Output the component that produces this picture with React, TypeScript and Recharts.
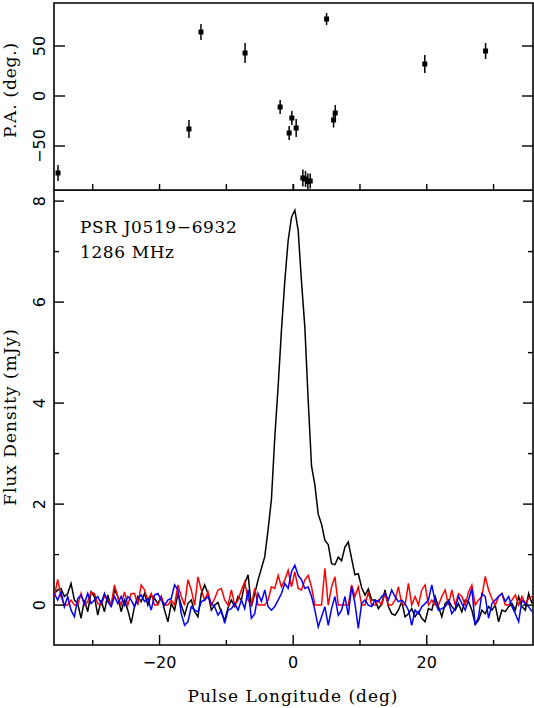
import React from 'react';
import {
  ScatterChart,
  Scatter,
  LineChart,
  Line,
  XAxis,
  YAxis,
  ErrorBar,
  ReferenceArea,
} from 'recharts';

// ---------- Position angle panel ----------
const paLongitude = [-35.2, -15.6, -13.8, -7.2, -1.95, -0.6, -0.2, 0.45, 0.05, 1.45, 1.85, 2.2, 2.55, 5.0, 6.05, 6.3, 19.7, 28.8];
const paAngle = [-77, -33, 64, 43, -11, -37, -22, -32, -97, -82, -83, -85.5, -85, 77, -24, -17, 32, 45];
const paError = [8, 9, 8, 10, 7, 7, 7, 9, 9, 8.5, 8, 8, 7.5, 6, 7.5, 8, 9, 8];

// ---------- Profile panel (0.5 deg bins) ----------
const firstBin = -35.75;
const binWidth = 0.5;

const totalLeft = [0.23, 0.30, 0.33, 0.17, 0.23, 0.43, 0.10, 0.03, -0.26, 0.10, -0.13, 0.26, 0.17, -0.20, 0.10, -0.13, 0.20, -0.03, 0.30, 0.17, -0.13, 0.10, -0.10, -0.36, -0.03, 0.17, 0.07, 0.23, 0.00, 0.20, 0.13, 0.03, 0.17, -0.10, -0.33, 0.03, -0.10, 0.23, 0.00, -0.20, 0.03, 0.10, -0.13, -0.23, 0.23, 0.40, 0.23, -0.10];
const totalCentre = [0.0, 0.05, -0.15, -0.3, -0.05, 0.1, -0.03, 0.17, 0.1, 0.43, 0.6, -0.03, 0.23, 0.5, 0.73, 0.96, 1.5, 2.1, 3.33, 4.33, 5.45, 6.42, 7.22, 7.68, 7.82, 7.42, 6.4, 5.5, 4.05, 2.75, 2.38, 1.8, 1.6, 1.28, 1.2, 0.82, 0.8, 0.95, 0.88, 1.15, 1.25, 0.92, 0.6, 0.62, 0.35, 0.2, 0.32, 0.1];
const totalRight = [0.1, -0.07, 0.03, 0.3, -0.03, -0.17, -0.2, -0.1, 0.07, -0.23, -0.17, -0.07, -0.23, -0.13, -0.26, -0.33, -0.07, -0.1, 0.17, -0.03, -0.23, 0.03, 0.1, -0.03, -0.1, 0.03, -0.13, 0.1, 0.07, -0.1, -0.38, -0.3, -0.1, -0.17, -0.03, -0.1, 0, -0.33, -0.1, -0.13, -0.03, 0.03, -0.1, 0.17, -0.03, -0.1, 0.23, 0.03];

const linearLeft = [0.17, 0.51, 0.17, 0, 0, 0.10, 0, 0, 0.23, 0, 0.07, 0.26, 0.23, 0.03, 0, 0.17, 0.10, 0, 0.40, 0.17, 0, 0.26, 0, 0.23, 0.23, 0, 0.40, 0.30, 0.10, 0.23, 0, 0, 0.17, 0, 0, 0.10, 0, 0.40, 0.17, 0, 0.50, 0.30, 0, 0.56, 0.30, 0.10, 0.26, 0];
const linearCentre = [0.13, 0.3, 0.33, 0.1, 0, 0.3, 0, 0.1, 0.3, 0.46, 0.1, 0, 0.33, 0, 0, 0, 0.1, 0.36, 0.33, 0.59, 0.36, 0.5, 0.69, 0.36, 0.66, 0.33, 0.3, 0.5, 0.59, 0.36, 0, 0, 0, 0.73, 0, 0.36, 0.56, 0, 0, 0, 0, 0.4, 0.17, 0.36, 0, 0, 0.26, 0];
const linearRight = [0, 0.1, 0, 0.23, 0, 0, 0.1, 0.36, 0.03, 0, 0.43, 0, 0.17, 0, 0.3, 0.4, 0, 0.1, 0, 0, 0.17, 0.3, 0, 0.3, 0, 0.23, 0.17, 0, 0.26, 0.4, 0, 0.1, 0.17, 0.57, 0.3, 0.13, 0, 0.17, 0.23, 0, 0, 0.1, 0.2, 0, 0.17, 0.03, 0.13, 0.17];

const circularLeft = [0.23, 0.10, 0.26, -0.03, 0.17, -0.10, -0.23, 0.13, 0.20, 0.03, 0.23, 0.03, 0.10, 0.17, 0.03, 0.23, 0.07, -0.03, 0.17, 0.03, 0.17, 0, 0.17, 0.10, -0.03, 0.13, 0.20, 0.07, 0.13, -0.10, 0.20, 0.23, 0.10, 0, 0.10, 0.13, 0.40, 0.30, -0.17, -0.40, -0.33, -0.03, -0.10, -0.13, 0.07, 0.10, 0.17, 0.03];
const circularCentre = [-0.03, -0.2, -0.1, -0.36, -0.1, -0.07, 0.03, -0.1, 0.1, -0.07, 0.3, -0.26, -0.17, 0.23, 0.07, 0.3, -0.03, -0.1, -0.03, 0.1, 0.23, 0.43, 0.33, 0.66, 0.79, 0.59, 0.5, 0.33, 0.36, 0.17, -0.1, -0.43, -0.23, -0.03, -0.4, -0.07, 0.17, -0.2, -0.1, 0.17, -0.2, 0.36, 0.03, -0.46, 0.03, 0.1, 0, -0.03];
const circularRight = [0.1, 0.07, 0.17, 0.23, 0.1, 0.3, 0.17, 0.07, 0.1, 0.03, -0.1, -0.4, -0.1, -0.17, -0.03, 0.03, 0.1, 0.4, 0.07, -0.1, -0.07, -0.03, 0.07, -0.17, -0.07, 0.17, 0.03, -0.1, 0.1, 0.33, -0.4, -0.23, 0.23, 0.17, -0.26, 0.03, 0.1, 0.17, 0.23, 0.07, 0.17, -0.03, -0.17, -0.33, 0.1, 0.03, -0.03, -0.13];

// ---------- Axes ----------
const xTicks = [-30, -20, -10, 0, 10, 20, 30];
const xLabelled = [-20, 0, 20];
const paTicks = [-50, 0, 50];
const fluxTicks = [0, 1, 2, 3, 4, 5, 6, 7, 8];
const fluxLabelled = [0, 2, 4, 6, 8];

const X_DOMAIN: [number, number] = [-35.8, 35.9];
const PA_DOMAIN: [number, number] = [-94, 93];
const FLUX_DOMAIN: [number, number] = [-0.79, 8.22];

// ---------- build tables ----------
const total = [...totalLeft, ...totalCentre, ...totalRight];
const linear = [...linearLeft, ...linearCentre, ...linearRight];
const circular = [...circularLeft, ...circularCentre, ...circularRight];
const profile = total.map((v, i) => ({
  lon: firstBin + i * binWidth,
  I: v,
  L: linear[i],
  V: circular[i],
}));
const paData = paLongitude.map((lon, i) => ({ lon, pa: paAngle[i], err: paError[i] }));

const SERIF = '"DejaVu Serif", "Liberation Serif", serif';
const NUM = '"DejaVu Sans", sans-serif';
const fmt = (v: number) => (v < 0 ? '\u2212' + Math.abs(v) : String(v));

const xTick = (side: 'top' | 'bottom', len: (v: number) => number, labels: number[]) => (props: any) => {
  const { x, y, payload } = props;
  const v = payload.value;
  const dir = side === 'bottom' ? -1 : 1;
  return (
    <g>
      <line x1={x} y1={y} x2={x} y2={y + dir * len(v)} stroke="#000" strokeWidth={1.4} />
      {labels.includes(v) && (
        <text x={x} y={y + 23} textAnchor="middle" fontFamily={NUM} fontSize={16} fill="#000">
          {fmt(v)}
        </text>
      )}
    </g>
  );
};

const yTick = (side: 'left' | 'right', len: (v: number) => number, labels: number[]) => (props: any) => {
  const { x, y, payload } = props;
  const v = payload.value;
  const dir = side === 'left' ? 1 : -1;
  return (
    <g>
      <line x1={x} y1={y} x2={x + dir * len(v)} y2={y} stroke="#000" strokeWidth={1.4} />
      {labels.includes(v) && (
        <text
          x={x - 9}
          y={y}
          transform={`rotate(-90, ${x - 9}, ${y})`}
          textAnchor="middle"
          fontFamily={NUM}
          fontSize={16}
          fill="#000"
        >
          {fmt(v)}
        </text>
      )}
    </g>
  );
};

const square = (p: any) => <rect x={p.cx - 2.5} y={p.cy - 2.5} width={5} height={5} fill="#000" />;

export default function App() {
  return (
    <div style={{ position: 'absolute', left: 0, top: 0, width: 534, height: 708, background: '#fff' }}>
      <div style={{ position: 'absolute', left: 0, top: 0 }}>
        <ScatterChart width={534} height={191} margin={{ top: 0, right: 0, bottom: 0, left: 0 }}>
          <XAxis
            xAxisId="b"
            type="number"
            dataKey="lon"
            domain={X_DOMAIN}
            allowDataOverflow
            ticks={xTicks}
            interval={0}
            height={1}
            tickSize={0}
            tickMargin={0}
            axisLine={false}
            tickLine={false}
            tick={xTick('bottom', () => 6, [])}
          />
          <XAxis
            xAxisId="t"
            orientation="top"
            type="number"
            domain={X_DOMAIN}
            allowDataOverflow
            ticks={xTicks}
            interval={0}
            height={3}
            tickSize={0}
            tickMargin={0}
            axisLine={false}
            tickLine={false}
            tick={xTick('top', () => 11, [])}
          />
          <YAxis
            yAxisId="l"
            type="number"
            dataKey="pa"
            domain={PA_DOMAIN}
            allowDataOverflow
            ticks={paTicks}
            interval={0}
            width={54}
            tickSize={0}
            tickMargin={0}
            axisLine={false}
            tickLine={false}
            tick={yTick('left', () => 11, paTicks)}
          />
          <YAxis
            yAxisId="r"
            orientation="right"
            type="number"
            domain={PA_DOMAIN}
            allowDataOverflow
            ticks={paTicks}
            interval={0}
            width={1}
            tickSize={0}
            tickMargin={0}
            axisLine={false}
            tickLine={false}
            tick={yTick('right', () => 11, [])}
          />
          <ReferenceArea
            xAxisId="b"
            yAxisId="l"
            x1={X_DOMAIN[0]}
            x2={X_DOMAIN[1]}
            y1={PA_DOMAIN[0]}
            y2={PA_DOMAIN[1]}
            fill="none"
            fillOpacity={0}
            stroke="#000"
            strokeWidth={1.6}
            ifOverflow="visible"
          />
          <Scatter xAxisId="b" yAxisId="l" data={paData} shape={square} isAnimationActive={false}>
            <ErrorBar dataKey="err" direction="y" width={0} stroke="#000" strokeWidth={1.5} />
          </Scatter>
        </ScatterChart>
      </div>
      <div style={{ position: 'absolute', left: 0, top: 190 }}>
        <LineChart width={534} height={518} data={profile} margin={{ top: 0, right: 0, bottom: 0, left: 0 }}>
          <XAxis
            xAxisId="b"
            type="number"
            dataKey="lon"
            domain={X_DOMAIN}
            allowDataOverflow
            ticks={xTicks}
            interval={0}
            height={63}
            tickSize={0}
            tickMargin={0}
            axisLine={false}
            tickLine={false}
            tick={xTick('bottom', (v) => (v % 20 === 0 ? 10 : 5), xLabelled)}
          />
          <YAxis
            yAxisId="l"
            type="number"
            domain={FLUX_DOMAIN}
            allowDataOverflow
            ticks={fluxTicks}
            interval={0}
            width={54}
            tickSize={0}
            tickMargin={0}
            axisLine={false}
            tickLine={false}
            tick={yTick('left', (v) => (v % 2 === 0 ? 10 : 5), fluxLabelled)}
          />
          <YAxis
            yAxisId="r"
            orientation="right"
            type="number"
            domain={FLUX_DOMAIN}
            allowDataOverflow
            ticks={fluxTicks}
            interval={0}
            width={1}
            tickSize={0}
            tickMargin={0}
            axisLine={false}
            tickLine={false}
            tick={yTick('right', (v) => (v % 2 === 0 ? 10 : 5), [])}
          />
          <ReferenceArea
            xAxisId="b"
            yAxisId="l"
            x1={X_DOMAIN[0]}
            x2={X_DOMAIN[1]}
            y1={FLUX_DOMAIN[0]}
            y2={FLUX_DOMAIN[1]}
            fill="none"
            fillOpacity={0}
            stroke="#000"
            strokeWidth={1.6}
            ifOverflow="visible"
          />
          <Line xAxisId="b" yAxisId="l" type="linear" dataKey="I" stroke="#000" strokeWidth={1.5} dot={false} isAnimationActive={false} />
          <Line xAxisId="b" yAxisId="l" type="linear" dataKey="L" stroke="#ff0000" strokeWidth={1.5} dot={false} isAnimationActive={false} />
          <Line xAxisId="b" yAxisId="l" type="linear" dataKey="V" stroke="#0000ff" strokeWidth={1.5} dot={false} isAnimationActive={false} />
        </LineChart>
      </div>
      <svg
        width={534}
        height={708}
        style={{ position: 'absolute', left: 0, top: 0, pointerEvents: 'none' }}
      >
        <text x={16} y={90} transform="rotate(-90, 16, 90)" textAnchor="middle" fontFamily={SERIF} fontSize={17} letterSpacing={0.8} fill="#000">
          P.A. (deg.)
        </text>
        <text x={16} y={417} transform="rotate(-90, 16, 417)" textAnchor="middle" fontFamily={SERIF} fontSize={17} letterSpacing={1} fill="#000">
          Flux Density (mJy)
        </text>
        <text x={293} y={702} textAnchor="middle" fontFamily={SERIF} fontSize={17} letterSpacing={1} fill="#000">
          Pulse Longitude (deg)
        </text>
        <text x={80} y={233} fontFamily={SERIF} fontSize={17} letterSpacing={0.6} fill="#000">
          PSR J0519{'\u2212'}6932
        </text>
        <text x={80} y={258} fontFamily={SERIF} fontSize={17} letterSpacing={0.6} fill="#000">
          1286 MHz
        </text>
      </svg>
    </div>
  );
}
